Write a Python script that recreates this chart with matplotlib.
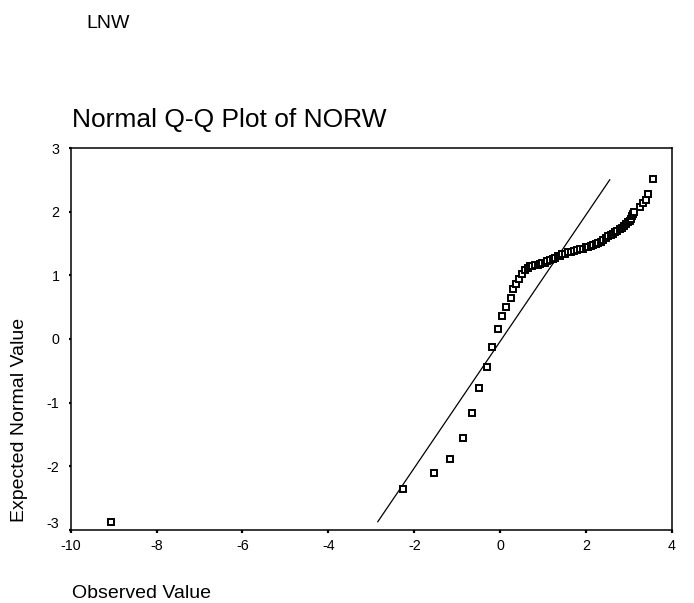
import matplotlib
matplotlib.use("Agg")
import matplotlib.pyplot as plt
from matplotlib.transforms import ScaledTranslation

plt.rcParams['font.family'] = ['Liberation Sans', 'DejaVu Sans']

observed = [-9.07, -2.26, -1.54, -1.17, -0.87, -0.66, -0.49, -0.31, -0.18, -0.04,
            0.05, 0.14, 0.24, 0.30, 0.37, 0.43, 0.50, 0.58, 0.64, 0.69,
            0.75, 0.81, 0.87, 0.93, 0.98, 1.04, 1.10, 1.16, 1.22, 1.28,
            1.34, 1.39, 1.45, 1.51, 1.57, 1.64, 1.71, 1.78, 1.85, 1.93,
            1.99, 2.05, 2.11, 2.17, 2.22, 2.28, 2.34, 2.40, 2.46, 2.52,
            2.58, 2.63, 2.68, 2.73, 2.78, 2.83, 2.88, 2.93, 2.98, 3.02,
            3.05, 3.08, 3.10, 3.12, 3.26, 3.33, 3.40, 3.45, 3.56]
expected = [-2.87, -2.36, -2.10, -1.88, -1.55, -1.17, -0.77, -0.44, -0.13, 0.16,
            0.36, 0.51, 0.65, 0.78, 0.86, 0.95, 1.02, 1.08, 1.11, 1.14,
            1.15, 1.16, 1.17, 1.18, 1.19, 1.20, 1.22, 1.24, 1.26, 1.28,
            1.30, 1.31, 1.33, 1.34, 1.36, 1.37, 1.38, 1.40, 1.41, 1.42,
            1.44, 1.45, 1.46, 1.48, 1.50, 1.51, 1.53, 1.55, 1.58, 1.61,
            1.63, 1.65, 1.68, 1.70, 1.72, 1.74, 1.77, 1.80, 1.83, 1.85,
            1.89, 1.93, 1.97, 2.00, 2.08, 2.13, 2.18, 2.27, 2.51]

# Reference line endpoints
line_x = [-2.85, 2.55]
line_y = [-2.87, 2.50]

x_ticks = [-10, -8, -6, -4, -2, 0, 2, 4]
y_ticks = [-3, -2, -1, 0, 1, 2, 3]

fig = plt.figure(figsize=(6.94, 6.03), dpi=100)
ax = fig.add_axes([70.7 / 694, 1 - 530 / 603, (672 - 70.7) / 694, (530 - 148) / 603])

ax.plot(line_x, line_y, color='black', lw=0.9, zorder=2)
ax.plot(observed, expected, linestyle='none', marker='s', markersize=4.0,
        markerfacecolor='white', markeredgecolor='black', markeredgewidth=1.4,
        zorder=3, clip_on=False)

ax.set_xlim(-10, 4)
ax.set_ylim(-3, 3)
ax.set_xticks(x_ticks)
ax.set_yticks(y_ticks)
ax.set_xticklabels([str(v) for v in x_ticks])
ax.set_yticklabels([str(v) for v in y_ticks])

for s in ax.spines.values():
    s.set_linewidth(1.1)
    s.set_color('black')

ax.tick_params(axis='x', direction='out', length=2.2, width=1.6, pad=4,
               labelsize=10.3, colors='black')
ax.tick_params(axis='y', direction='out', length=1.5, width=1.6, pad=6.5,
               labelsize=10.3, colors='black')

# SPSS lifts the lowest y label slightly
lab = ax.get_yticklabels()[0]
lab.set_transform(lab.get_transform() + ScaledTranslation(0, 7 / 100, fig.dpi_scale_trans))

fig.text(86 / 694, 1 - 27.5 / 603, 'LNW', fontsize=14, ha='left', va='baseline')
fig.text(72 / 694, 1 - 126.5 / 603, 'Normal Q-Q Plot of NORW', fontsize=19,
         ha='left', va='baseline')
fig.text(20 / 694, 1 - 420 / 603, 'Expected Normal Value', fontsize=14,
         rotation=90, ha='center', va='center')
fig.text(72 / 694, 1 - 598 / 603, 'Observed Value', fontsize=14,
         ha='left', va='baseline')

fig.savefig('out.png', dpi=100)
